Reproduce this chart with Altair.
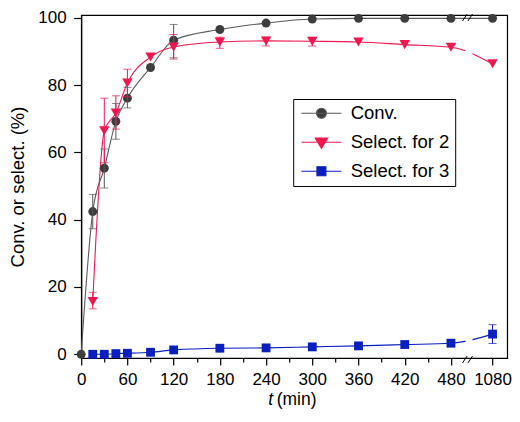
import altair as alt
import pandas as pd

# ---------------- data ----------------
T = [0, 15, 30, 45, 60, 90, 120, 180, 240, 300, 360, 420, 480, 1080]

CONV = [0.0, 42.4, 55.3, 69.2, 76.1, 85.2, 93.3, 96.5, 98.4, 99.6, 99.8, 99.8, 99.8, 99.8]
CONV_LO = [None, 37.3, 49.4, 63.9, 73.2, None, 88.1, None, None, None, None, None, None, None]
CONV_HI = [None, 47.5, 61.0, 74.5, 79.3, None, 98.0, None, None, None, None, None, None, None]

SEL2 = [None, 15.7, 66.4, 71.7, 80.6, 88.3, 91.3, 92.8, 93.1, 93.0, 92.8, 92.0, 91.2, 86.3]
SEL2_LO = [None, 13.5, 56.9, 66.9, 76.5, None, 87.7, 90.9, 91.6, 91.6, None, None, None, None]
SEL2_HI = [None, 18.4, 76.1, 76.8, 84.7, None, 95.0, 94.2, 94.2, 94.0, None, None, None, None]

SEL3 = [None, 0.0, 0.0, 0.2, 0.3, 0.6, 1.3, 1.8, 1.9, 2.2, 2.5, 2.9, 3.3, 6.0]
SEL3_LO = [None] * 13 + [3.2]
SEL3_HI = [None] * 13 + [8.8]

SERIES = ["Conv.", "Select. for 2", "Select. for 3"]
MARKER_COLORS = ["#3d3d3d", "#f2174f", "#0a1fbf"]
LINE_COLORS = ["#5a5a5a", "#f2174f", "#0a1fbf"]
ERR_COLORS = ["#555555", "#f2174f", "#0a1fbf"]
SHAPES = ["circle", "triangle-down", "square"]
SIZES = [80, 110, 78]

X_MAJOR = [0, 60, 120, 180, 240, 300, 360, 420, 480]
X_MINOR = [30, 90, 150, 210, 270, 330, 390, 450]
Y_TICKS = [0, 20, 40, 60, 80, 100]

# broken axis: 480 -> 1080 compressed
POS_1080 = 534
BREAK_AT = 503
X_DOMAIN = [0, 553]
Y_DOMAIN = [-1.1, 100.8]

W, H = 426, 343
FONT = "Liberation Sans"


def xpos(t):
    return t if t <= 480 else POS_1080


rows = []
for s, vals, lo, hi in [
    (SERIES[0], CONV, CONV_LO, CONV_HI),
    (SERIES[1], SEL2, SEL2_LO, SEL2_HI),
    (SERIES[2], SEL3, SEL3_LO, SEL3_HI),
]:
    for t, v, l, h in zip(T, vals, lo, hi):
        if v is None:
            continue
        rows.append({"series": s, "t": t, "xp": xpos(t), "value": v, "lo": l, "hi": h})
df = pd.DataFrame(rows)

x_axis = alt.Axis(
    values=X_MAJOR + X_MINOR + [POS_1080],
    labelExpr=f"datum.value == {POS_1080} ? '1080' : (datum.value % 60 == 0 ? datum.label : '')",
    tickSize={"condition": {"test": "datum.value % 60 == 30", "value": 4}, "value": 7},
    labelOverlap=False,
    labelFlush=False,
    title=None,
    labelPadding=7,
)
y_axis = alt.Axis(values=Y_TICKS, title="Conv. or select. (%)", tickSize=7.5,
                  labelPadding=7.6, titlePadding=10, titleFontSize=18.5)
xs = alt.Scale(domain=X_DOMAIN, nice=False, zero=False)
ys = alt.Scale(domain=Y_DOMAIN, nice=False, zero=False)


def X(field):
    return alt.X(f"{field}:Q", scale=xs, axis=x_axis)


def Y(field):
    return alt.Y(f"{field}:Q", scale=ys, axis=y_axis)


layers = []
# curves
for i, s in enumerate(SERIES):
    d = df[df.series == s]
    layers.append(
        alt.Chart(d).mark_line(color=LINE_COLORS[i], strokeWidth=1.1, interpolate="monotone")
        .encode(x=X("xp"), y=Y("value"))
    )

# white gap for the axis break on the curves
gap = pd.DataFrame({"gx": [BREAK_AT - 4], "gx2": [BREAK_AT + 5], "gy": [0.8], "gy2": [98.8]})
layers.append(
    alt.Chart(gap).mark_rect(color="white")
    .encode(x=X("gx"), x2="gx2:Q", y=Y("gy"), y2="gy2:Q")
)

# markers + error bars
for i, s in enumerate(SERIES):
    d = df[df.series == s]
    e = d.dropna(subset=["lo"])
    layers.append(
        alt.Chart(d).mark_point(shape=SHAPES[i], filled=True, size=SIZES[i],
                                color=MARKER_COLORS[i], opacity=1)
        .encode(x=X("xp"), y=Y("value"))
    )
    if len(e):
        layers.append(
            alt.Chart(e).mark_rule(color=ERR_COLORS[i], strokeWidth=1)
            .encode(x=X("xp"), y=Y("lo"), y2="hi:Q")
        )
        for f in ["lo", "hi"]:
            layers.append(
                alt.Chart(e).mark_tick(color=ERR_COLORS[i], orient="horizontal",
                                       size=8, thickness=1)
                .encode(x=X("xp"), y=Y(f))
            )

# axis break marks "//"
brk = pd.DataFrame({"bx": [BREAK_AT - 8, BREAK_AT - 1], "bx2": [BREAK_AT - 2, BREAK_AT + 5]})
for y0, y1 in [(6, -1), (H + 5, H - 2)]:
    layers.append(
        alt.Chart(brk).mark_rule(color="black", strokeWidth=1)
        .encode(x=X("bx"), x2="bx2:Q", y=alt.value(y0), y2=alt.value(y1))
    )

# x axis title: italic t + (min)
ttl = pd.DataFrame({"a": ["t"], "b": ["(min)"]})
layers.append(
    alt.Chart(ttl).mark_text(font=FONT, fontSize=17.5, fontStyle="italic", align="right",
                             baseline="middle", color="black")
    .encode(text="a:N", x=alt.value(192), y=alt.value(H + 42.5))
)
layers.append(
    alt.Chart(ttl).mark_text(font=FONT, fontSize=17.5, align="left",
                             baseline="middle", color="black")
    .encode(text="b:N", x=alt.value(195.5), y=alt.value(H + 42.5))
)

# legend (symbols = line + marker), drawn from the scales only
PATHS = [
    "M-4,0L4,0M-1,0A1,1,0,1,0,1,0A1,1,0,1,0,-1,0Z",
    "M-4,0L4,0M-1.25,-0.85L1.25,-0.85L0,1.25Z",
    "M-4,0L4,0M-0.9,-0.9L0.9,-0.9L0.9,0.9L-0.9,0.9Z",
]
leg = alt.Legend(
    title=None, orient="none", legendX=212, legendY=84,
    symbolSize=100, symbolOpacity=1, symbolStrokeWidth=1.1,
    labelFont=FONT, labelFontSize=18.5, labelColor="black",
    strokeColor="black", fillColor="white", padding=5,
    rowPadding=10, symbolOffset=14, labelOffset=20,
)
layers.append(
    alt.Chart(pd.DataFrame({"series": SERIES})).transform_filter("false")
    .mark_point(strokeWidth=1.1)
    .encode(
        x=alt.value(200), y=alt.value(170),
        fill=alt.Fill("series:N", scale=alt.Scale(domain=SERIES, range=MARKER_COLORS), legend=leg),
        stroke=alt.Stroke("series:N", scale=alt.Scale(domain=SERIES, range=LINE_COLORS), legend=leg),
        shape=alt.Shape("series:N", scale=alt.Scale(domain=SERIES, range=PATHS), legend=leg),
    )
)

chart = (
    alt.layer(*layers)
    .properties(
        width=W, height=H,
        autosize=alt.AutoSizeParams(type="none"),
        padding={"left": 73.2, "top": 7, "right": 4.5, "bottom": 51},
    )
    .configure_view(stroke="black", strokeWidth=1.2)
    .configure_axis(
        grid=False, domainColor="black", tickColor="black", labelColor="black",
        titleColor="black", domainWidth=1.2, tickWidth=1.2,
        labelFont=FONT, titleFont=FONT, labelFontSize=17, titleFontSize=18.5,
        titleFontWeight="normal",
    )
)

chart.save("out.html", embed_options={"renderer": "svg", "actions": False})
